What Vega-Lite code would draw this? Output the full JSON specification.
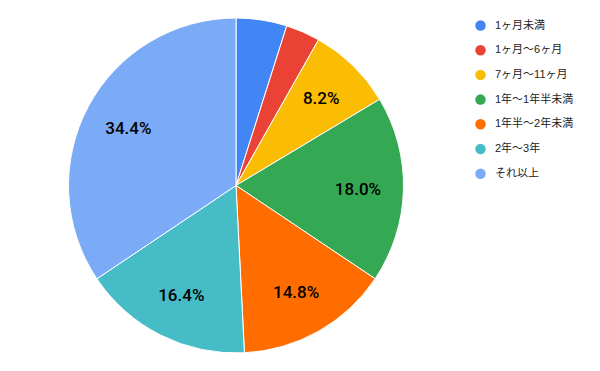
{
  "$schema": "https://vega.github.io/schema/vega-lite/v6.json",
  "width": 472,
  "height": 371,
  "padding": 0,
  "autosize": {"type": "pad"},
  "background": "white",
  "data": {
    "values": [
      {"cat": "1ヶ月未満", "pct": 4.9, "label": "", "ord": 1},
      {"cat": "1ヶ月～6ヶ月", "pct": 3.3, "label": "", "ord": 2},
      {"cat": "7ヶ月～11ヶ月", "pct": 8.2, "label": "8.2%", "ord": 3},
      {"cat": "1年～1年半未満", "pct": 18.0, "label": "18.0%", "ord": 4},
      {"cat": "1年半～2年未満", "pct": 14.8, "label": "14.8%", "ord": 5},
      {"cat": "2年～3年", "pct": 16.4, "label": "16.4%", "ord": 6},
      {"cat": "それ以上", "pct": 34.4, "label": "34.4%", "ord": 7}
    ]
  },
  "encoding": {
    "theta": {"field": "pct", "type": "quantitative", "stack": true},
    "order": {"field": "ord", "type": "quantitative", "sort": "ascending"}
  },
  "layer": [
    {
      "mark": {"type": "arc", "outerRadius": 167.5, "stroke": "white", "strokeWidth": 1},
      "encoding": {
        "color": {
          "field": "cat",
          "type": "nominal",
          "sort": ["1ヶ月未満", "1ヶ月～6ヶ月", "7ヶ月～11ヶ月", "1年～1年半未満", "1年半～2年未満", "2年～3年", "それ以上"],
          "scale": {
            "domain": ["1ヶ月未満", "1ヶ月～6ヶ月", "7ヶ月～11ヶ月", "1年～1年半未満", "1年半～2年未満", "2年～3年", "それ以上"],
            "range": ["#4285F4", "#EA4335", "#FBBC04", "#34A853", "#FF6D01", "#46BDC6", "#7BAAF7"]
          },
          "legend": {
            "title": null,
            "orient": "none",
            "legendX": 475,
            "legendY": 20,
            "symbolType": "circle",
            "symbolSize": 110,
            "symbolStrokeWidth": 0,
            "labelFontSize": 11,
            "labelColor": "#222222",
            "labelFont": "Liberation Sans, Noto Sans CJK JP, sans-serif",
            "labelOffset": 9,
            "rowPadding": 12.7,
            "padding": 0
          }
        }
      }
    },
    {
      "mark": {
        "type": "text",
        "radius": 122,
        "fontSize": 17,
        "fontWeight": 500,
        "font": "Roboto, Liberation Sans, sans-serif",
        "color": "#000000",
        "align": "center",
        "baseline": "middle",
        "dy": 1
      },
      "encoding": {
        "text": {"field": "label", "type": "nominal"}
      }
    }
  ],
  "config": {"view": {"stroke": null}}
}
